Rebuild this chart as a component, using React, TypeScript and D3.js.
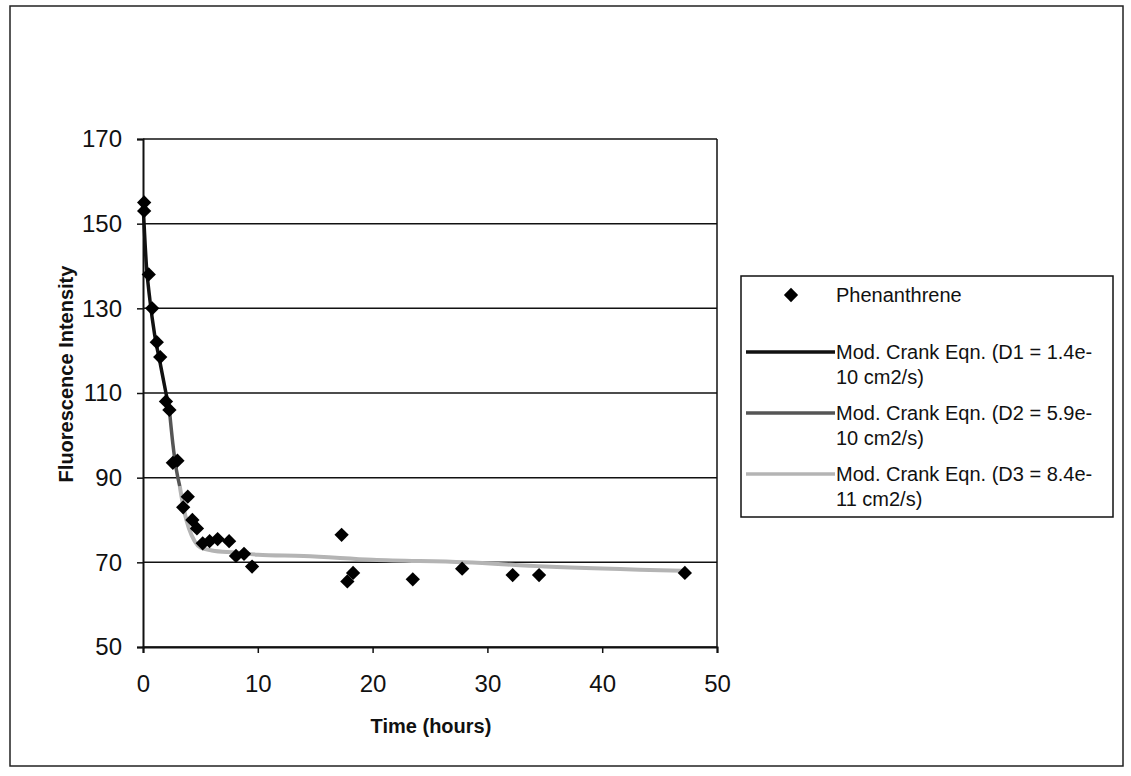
import { useEffect, useRef } from 'react'
import * as d3 from 'd3'

// measured points (hours, intensity)
const obsT = [0.1, 0.1, 0.5, 0.8, 1.2, 1.5, 2.0, 2.3, 2.6, 3.0, 3.5, 3.9, 4.3, 4.7, 5.2, 5.8, 6.5, 7.5, 8.1, 8.8, 9.5, 17.3, 17.8, 18.3, 23.5, 27.8, 32.2, 34.5, 47.2]
const obsY = [155, 153, 138, 130, 122, 118.5, 108, 106, 93.5, 94, 83, 85.5, 80, 78, 74.5, 75, 75.5, 75, 71.5, 72, 69, 76.5, 65.5, 67.5, 66, 68.5, 67, 67, 67.5]

// model curves
const d1T = [0, 0.3, 0.6, 1.0, 1.5, 2.0, 2.3]
const d1Y = [155, 140, 132, 124, 117, 110, 106]
const d2T = [2.3, 2.6, 2.9, 3.2]
const d2Y = [106, 98, 92, 88]
const d3T = [3.2, 3.6, 4.0, 4.5, 5.0, 6.0, 8.0, 10, 14, 20, 28, 35, 47]
const d3Y = [88, 82, 78, 75, 73.5, 72.8, 72.3, 71.8, 71.5, 70.6, 70, 69, 68]

const xTicks = [0, 10, 20, 30, 40, 50]
const yTicks = [50, 70, 90, 110, 130, 150, 170]

const legendItems = [
  { label: ['Phenanthrene'], kind: 'dot', color: '#000' },
  { label: ['Mod. Crank Eqn. (D1 = 1.4e-', '10 cm2/s)'], kind: 'line', color: '#111' },
  { label: ['Mod. Crank Eqn. (D2 = 5.9e-', '10 cm2/s)'], kind: 'line', color: '#555' },
  { label: ['Mod. Crank Eqn. (D3 = 8.4e-', '11 cm2/s)'], kind: 'line', color: '#b4b4b4' },
]

export default function App() {
  const svgRef = useRef<SVGSVGElement>(null)

  useEffect(() => {
    const width = 1131
    const height = 776
    const svg = d3.select(svgRef.current)
    svg.selectAll('*').remove()
    svg.attr('width', width).attr('height', height)
    const font = '"Liberation Sans", Arial, sans-serif'

    svg.append('rect').attr('width', width).attr('height', height).attr('fill', '#fff')
    // outer frame
    svg.append('rect')
      .attr('x', 10).attr('y', 6).attr('width', 1113).attr('height', 760)
      .attr('fill', 'none').attr('stroke', '#222').attr('stroke-width', 1.5)

    const x = d3.scaleLinear().domain([0, 50]).range([143, 717])
    const y = d3.scaleLinear().domain([50, 170]).range([647, 139])

    // grid
    svg.append('g').selectAll('line').data(yTicks).join('line')
      .attr('x1', x(0)).attr('x2', x(50))
      .attr('y1', d => y(d)).attr('y2', d => y(d))
      .attr('stroke', '#111').attr('stroke-width', 1.5)
    svg.append('line')
      .attr('x1', x(50)).attr('x2', x(50)).attr('y1', y(170)).attr('y2', y(50))
      .attr('stroke', '#111').attr('stroke-width', 1.5)

    // axes
    const xAxis = d3.axisBottom(x).tickValues(xTicks).tickSize(6).tickPadding(22)
    svg.append('g')
      .attr('transform', `translate(0, ${y(50)})`)
      .call(xAxis)
      .call(ax => ax.select('.domain').attr('stroke', '#111').attr('stroke-width', 2))
      .call(ax => ax.selectAll('line').attr('stroke', '#111').attr('stroke-width', 1.5))
      .call(ax => ax.selectAll('text').attr('fill', '#111').attr('font-size', '24px').attr('font-family', font))

    const yAxis = d3.axisLeft(y).tickValues(yTicks).tickSize(6).tickPadding(15)
    svg.append('g')
      .attr('transform', `translate(${x(0)}, 0)`)
      .call(yAxis)
      .call(ax => ax.select('.domain').attr('stroke', '#111').attr('stroke-width', 2))
      .call(ax => ax.selectAll('line').attr('stroke', '#111').attr('stroke-width', 1.5))
      .call(ax => ax.selectAll('text').attr('fill', '#111').attr('font-size', '24px').attr('font-family', font))

    svg.append('text')
      .attr('x', 431).attr('y', 733)
      .attr('text-anchor', 'middle')
      .attr('font-family', font).attr('font-weight', 'bold').attr('font-size', '20px')
      .attr('fill', '#111')
      .text('Time (hours)')
    svg.append('text')
      .attr('transform', `translate(73, 374) rotate(-90)`)
      .attr('text-anchor', 'middle')
      .attr('font-family', font).attr('font-weight', 'bold').attr('font-size', '20px')
      .attr('fill', '#111')
      .text('Fluorescence Intensity')

    // curves
    const curve = (ts: number[], ys: number[], color: string, w: number) => {
      const pts: [number, number][] = ts.map((t, i) => [x(t), y(ys[i])])
      svg.append('path')
        .attr('d', d3.line().curve(d3.curveMonotoneX)(pts))
        .attr('fill', 'none').attr('stroke', color).attr('stroke-width', w)
    }
    curve(d3T, d3Y, '#b4b4b4', 4)
    curve(d2T, d2Y, '#555', 3.5)
    curve(d1T, d1Y, '#111', 3.5)

    const diamond = d3.symbol().type(d3.symbolDiamond2).size(130)
    svg.append('g').selectAll('path').data(obsT).join('path')
      .attr('d', diamond)
      .attr('transform', (d, i) => `translate(${x(d)}, ${y(obsY[i])})`)
      .attr('fill', '#000')

    // legend
    svg.append('rect')
      .attr('x', 741).attr('y', 276).attr('width', 372).attr('height', 241)
      .attr('fill', '#fff').attr('stroke', '#111').attr('stroke-width', 1.5)
    const rowsY = [295, 352, 413, 474]
    legendItems.forEach((item, i) => {
      const cy = rowsY[i]
      if (item.kind === 'dot') {
        svg.append('path').attr('d', diamond).attr('transform', `translate(791, ${cy})`).attr('fill', '#000')
      } else {
        svg.append('line').attr('x1', 746).attr('x2', 835).attr('y1', cy).attr('y2', cy)
          .attr('stroke', item.color).attr('stroke-width', 3.5)
      }
      item.label.forEach((s, j) => {
        svg.append('text')
          .attr('x', 836).attr('y', cy + 7 + j * 25)
          .attr('font-family', font).attr('font-size', '20px').attr('fill', '#111')
          .text(s)
      })
    })
  }, [])

  return <svg ref={svgRef} style={{ position: 'absolute', left: 0, top: 0 }} />
}
